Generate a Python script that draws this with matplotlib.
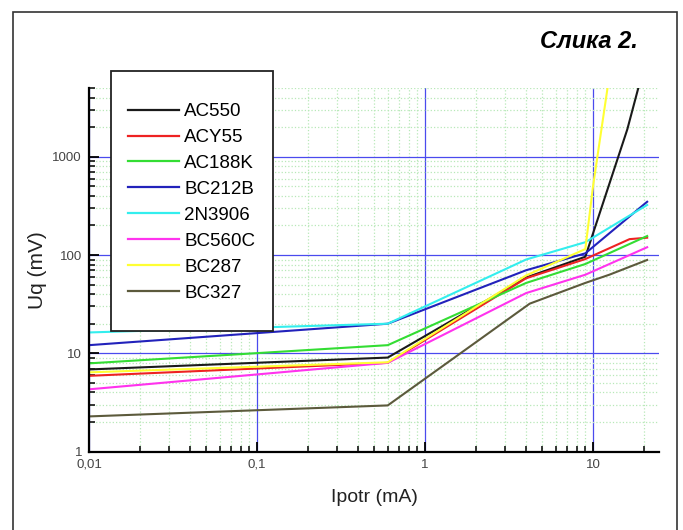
# Uq vs Ipotr za nekoliko tranzistora (log-log)
import numpy as np
import matplotlib
matplotlib.use('Agg')
import matplotlib.pyplot as plt
from matplotlib.ticker import LogLocator, NullFormatter
from matplotlib.patches import Rectangle
from matplotlib.lines import Line2D

plt.rcParams['font.family'] = ['Liberation Sans', 'DejaVu Sans']

# Podaci (ocitani sa slike)
names = ['AC550', 'ACY55', 'AC188K', 'BC212B', '2N3906', 'BC560C', 'BC287', 'BC327']
colors = ['#1a1a1a', '#ee2222', '#33dd33', '#2222bb', '#33eeee', '#ff33ee', '#ffff33', '#5c5a3c']

ac550_x = [0.01, 0.6, 4, 9, 16, 18.6]
ac550_y = [6.85, 9.05, 59, 96, 1900, 5000]
acy55_x = [0.01, 0.6, 4, 9, 16.5, 21]
acy55_y = [5.9, 8.0, 58, 91, 145, 150]
ac188k_x = [0.01, 0.6, 4, 9, 21]
ac188k_y = [7.9, 12.1, 52, 81, 156]
bc212b_x = [0.01, 0.6, 4, 9, 21]
bc212b_y = [12.1, 20, 70, 104, 348]
n3906_x = [0.01, 0.6, 4, 9, 21]
n3906_y = [16.3, 20, 90, 135, 323]
bc560c_x = [0.01, 0.6, 4, 9, 21]
bc560c_y = [4.3, 8.0, 41, 63, 120]
bc287_x = [0.01, 0.6, 4, 9, 10, 12.2]
bc287_y = [6.4, 8.1, 62, 115, 500, 5000]
bc327_x = [0.01, 0.6, 4.2, 9, 12.5, 21]
bc327_y = [2.28, 2.95, 32, 52, 63, 89]

xs = [ac550_x, acy55_x, ac188k_x, bc212b_x, n3906_x, bc560c_x, bc287_x, bc327_x]
ys = [ac550_y, acy55_y, ac188k_y, bc212b_y, n3906_y, bc560c_y, bc287_y, bc327_y]

x_ticks = [0.01, 0.1, 1, 10]
x_labels = ['0,01', '0,1', '1', '10']
y_ticks = [1, 10, 100, 1000]
y_labels = ['1', '10', '100', '1000']

W, H = 683, 530
fig = plt.figure(figsize=(W / 100, H / 100), dpi=100)
ax = fig.add_axes([89 / W, 1 - 451.6 / H, (659 - 89) / W, (451.6 - 88) / H])

for x, y, c, n in zip(xs, ys, colors, names):
    ax.plot(x, y, color=c, lw=1.5, label=n)

ax.set_xscale('log')
ax.set_yscale('log')
ax.set_xlim(0.01, 24.7)
ax.set_ylim(1, 5000)

ax.set_xticks(x_ticks)
ax.set_xticklabels(x_labels)
ax.set_yticks(y_ticks)
ax.set_yticklabels(y_labels)
ax.xaxis.set_minor_locator(LogLocator(base=10, subs=np.arange(2, 10)))
ax.yaxis.set_minor_locator(LogLocator(base=10, subs=np.arange(2, 10)))
ax.xaxis.set_minor_formatter(NullFormatter())
ax.yaxis.set_minor_formatter(NullFormatter())

ax.tick_params(which='major', direction='in', length=7, width=1.3, labelsize=9.5,
               labelcolor='#444444', pad=5)
ax.tick_params(which='minor', direction='in', length=4, width=1.1)

ax.grid(which='minor', color='#b8e8b8', lw=0.9, ls=':')
ax.grid(which='major', color='#4a4aee', lw=0.9, ls='-')
ax.set_axisbelow(True)

for s in ['top', 'right']:
    ax.spines[s].set_visible(False)
for s in ['left', 'bottom']:
    ax.spines[s].set_linewidth(1.6)

ax.set_xlabel('Ipotr (mA)', fontsize=14, color='#222222', labelpad=13)
ax.set_ylabel('Uq (mV)', fontsize=15, color='#222222', labelpad=4)

# okvir legende
fig.patches.append(Rectangle((111 / W, 1 - 331 / H), (273 - 111) / W, (331 - 71) / H,
                             transform=fig.transFigure, facecolor='white',
                             edgecolor='#222222', lw=1.3, zorder=2))
handles = [Line2D([], [], color=c, lw=1.6) for c in colors]
leg = fig.legend(handles, names, loc='upper left', bbox_to_anchor=(128 / W, 1 - 103 / H),
                 frameon=False, fontsize=13.5, handlelength=2.72, handletextpad=0.27,
                 labelspacing=0.47, borderpad=0, borderaxespad=0)
leg.set_zorder(3)

# okvir slike
fig.patches.append(Rectangle((13 / W, -0.05), (677 - 13) / W, 1.05 - 12 / H,
                             transform=fig.transFigure, facecolor='none',
                             edgecolor='#333333', lw=1.2, zorder=1))

fig.text(638 / W, 1 - 42 / H, 'Слика 2.', ha='right', va='center', fontsize=17,
         fontweight='bold', fontstyle='italic')

fig.savefig('out.png', dpi=100)
